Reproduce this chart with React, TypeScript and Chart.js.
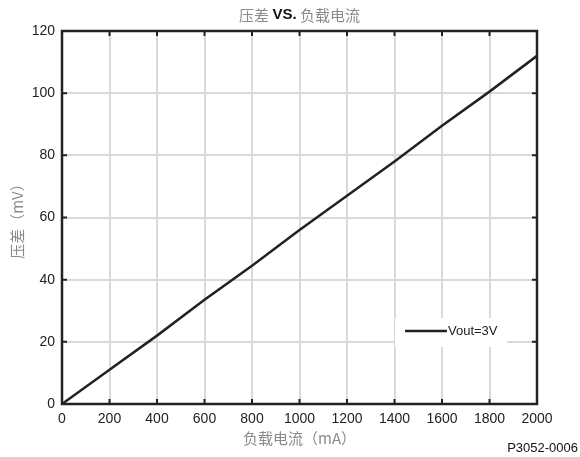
import React, { useEffect, useRef } from "react";
import { Chart, registerables } from "chart.js";

Chart.register(...registerables);

const currentMA: number[] = [0, 200, 400, 600, 800, 1000, 1200, 1400, 1600, 1800, 2000];
const dropoutMV: number[] = [0, 11, 22, 33.5, 44.5, 56, 67, 78, 89.5, 100.5, 112];
const seriesLabel = "Vout=3V";
const titleParts = ["压差 ", "VS.", " 负载电流"];
const xTitle = "负载电流（mA）";
const yTitle = "压差（mV）";
const footer = "P3052-0006";

const NUM_FONT = "'Liberation Sans', Arial, sans-serif";
const CJK_FONT = "'Noto Sans CJK SC', 'Liberation Sans', sans-serif";

const decor = {
  id: "decor",
  afterDatasetsDraw(chart: any) {
    const ctx = chart.ctx;
    ctx.save();
    ctx.fillStyle = "#ffffff";
    ctx.fillRect(395, 318, 112, 29);
    ctx.strokeStyle = "#222222";
    ctx.lineWidth = 2.5;
    ctx.beginPath();
    ctx.moveTo(405, 331);
    ctx.lineTo(447, 331);
    ctx.stroke();
    ctx.fillStyle = "#222222";
    ctx.font = `13px ${NUM_FONT}`;
    ctx.textBaseline = "middle";
    ctx.textAlign = "left";
    ctx.fillText(seriesLabel, 448, 331);
    ctx.restore();
  },
  afterDraw(chart: any) {
    const ctx = chart.ctx;
    const { left, right, top, bottom } = chart.chartArea;
    const xs = chart.scales.x;
    const ys = chart.scales.y;
    ctx.save();
    ctx.strokeStyle = "#222222";
    ctx.lineWidth = 2;
    const tl = 5;
    ctx.beginPath();
    xs.ticks.forEach((t: any) => {
      const px = xs.getPixelForValue(t.value);
      ctx.moveTo(px, bottom);
      ctx.lineTo(px, bottom - tl);
      ctx.moveTo(px, top);
      ctx.lineTo(px, top + tl);
    });
    ys.ticks.forEach((t: any) => {
      const py = ys.getPixelForValue(t.value);
      ctx.moveTo(left, py);
      ctx.lineTo(left + tl, py);
      ctx.moveTo(right, py);
      ctx.lineTo(right - tl, py);
    });
    ctx.stroke();
    ctx.lineWidth = 2.5;
    ctx.strokeRect(left, top, right - left, bottom - top);

    ctx.textBaseline = "middle";
    const fonts = [`15px ${CJK_FONT}`, `bold 15px ${NUM_FONT}`, `15px ${CJK_FONT}`];
    const colors = ["#8a8a8a", "#111111", "#8a8a8a"];
    let total = 0;
    const widths = titleParts.map((p, i) => {
      ctx.font = fonts[i];
      const w = ctx.measureText(p).width;
      total += w;
      return w;
    });
    let x = (left + right) / 2 - total / 2;
    ctx.textAlign = "left";
    titleParts.forEach((p, i) => {
      ctx.font = fonts[i];
      ctx.fillStyle = colors[i];
      ctx.fillText(p, x, 15);
      x += widths[i];
    });

    ctx.font = `15px ${CJK_FONT}`;
    ctx.fillStyle = "#8a8a8a";
    ctx.textAlign = "center";
    ctx.fillText(xTitle, (left + right) / 2, 438);

    ctx.save();
    ctx.translate(17, (top + bottom) / 2);
    ctx.rotate(-Math.PI / 2);
    ctx.fillText(yTitle, 0, 0);
    ctx.restore();

    ctx.font = `13px ${NUM_FONT}`;
    ctx.fillStyle = "#111111";
    ctx.textAlign = "right";
    ctx.fillText(footer, 578, 448);
    ctx.restore();
  },
};

export default function App() {
  const ref = useRef<HTMLCanvasElement | null>(null);
  useEffect(() => {
    if (!ref.current) return;
    const chart = new Chart(ref.current, {
      type: "line",
      data: {
        datasets: [
          {
            label: seriesLabel,
            data: currentMA.map((v, i) => ({ x: v, y: dropoutMV[i] })),
            borderColor: "#222222",
            borderWidth: 2.5,
            pointRadius: 0,
            fill: false,
            tension: 0,
          },
        ],
      },
      options: {
        animation: false,
        responsive: false,
        devicePixelRatio: 1,
        layout: { padding: { left: 0, right: 43, top: 31, bottom: 0 } },
        plugins: { legend: { display: false }, title: { display: false }, tooltip: { enabled: false } },
        scales: {
          x: {
            type: "linear",
            min: 0,
            max: 2000,
            afterFit: (s: any) => {
              s.height = 53;
            },
            ticks: {
              stepSize: 200,
              padding: 7,
              maxRotation: 0,
              autoSkip: false,
              color: "#222222",
              font: { family: NUM_FONT, size: 14 },
              callback: (v: any) => String(v),
            },
            grid: { color: "#d9d9d9", lineWidth: 2, drawTicks: false },
            border: { display: false },
          },
          y: {
            type: "linear",
            min: 0,
            max: 120,
            afterFit: (s: any) => {
              s.width = 62;
            },
            ticks: {
              stepSize: 20,
              padding: 7,
              color: "#222222",
              font: { family: NUM_FONT, size: 14 },
              callback: (v: any) => String(v),
            },
            grid: { color: "#d9d9d9", lineWidth: 2, drawTicks: false },
            border: { display: false },
          },
        },
      },
      plugins: [decor],
    });
    return () => chart.destroy();
  }, []);
  return (
    <div style={{ position: "fixed", left: 0, top: 0, width: 580, height: 457, background: "#fff" }}>
      <canvas ref={ref} width={580} height={457} style={{ width: 580, height: 457, display: "block" }} />
    </div>
  );
}
